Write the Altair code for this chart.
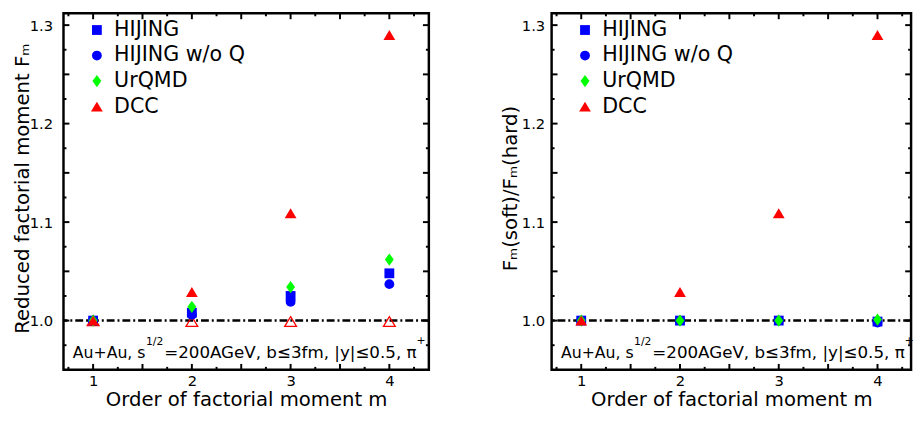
import altair as alt
import pandas as pd

# ---------------- data ----------------
m_vals = [1, 2, 3, 4]
series_names = ["HIJING", "HIJING w/o Q", "UrQMD", "DCC"]

left_hijing = [1.0, 1.008, 1.025, 1.048]
left_hijing_noq = [1.0, 1.006, 1.019, 1.037]
left_urqmd = [1.0, 1.014, 1.034, 1.062]
left_dcc = [1.0, 1.029, 1.109, 1.290]
left_dcc_hard = [1.0, 0.999, 0.999, 0.999]

right_hijing = [1.0, 1.0, 1.0, 0.999]
right_hijing_noq = [1.0, 1.0, 1.0, 0.998]
right_urqmd = [1.0, 1.0, 1.0, 1.001]
right_dcc = [1.0, 1.029, 1.109, 1.290]

reference_level = [1.0]

y_labels = [1.0, 1.1, 1.2, 1.3]
x_labels = [1, 2, 3, 4]
y_major_ticks = [1.0, 1.05, 1.1, 1.15, 1.2, 1.25, 1.3]
y_minor_ticks = [0.975, 1.025, 1.075, 1.125, 1.175, 1.225, 1.275]
x_major_ticks = [1.0, 1.5, 2.0, 2.5, 3.0, 3.5, 4.0]
x_minor_ticks = [0.75, 1.25, 1.75, 2.25, 2.75, 3.25, 3.75, 4.25]

# ---------------- styling ----------------
H = 363
FONT = "DejaVu Sans"
colors = ["#0000ff", "#0000ff", "#00ff00", "#ff0000"]
DIAMOND = "M0,-1.25L0.9,0L0,1.25L-0.9,0Z"
TRIANGLE = "M0,-1L1.2,1L-1.2,1Z"
shapes = ["square", "circle", DIAMOND, TRIANGLE]


def long_df(cols):
    rows = []
    for i, (name, vals) in enumerate(zip(series_names, cols)):
        for m, v in zip(m_vals, vals):
            rows.append({"m": m, "value": v, "series": name, "idx": i})
    return pd.DataFrame(rows)


def panel(cols, open_vals, ytitle, label_pad, W, xmax):
    xscale = alt.Scale(domain=[0.7, xmax], nice=False, zero=False)
    yscale = alt.Scale(domain=[0.95, 1.312], nice=False, zero=False)
    xaxis = alt.Axis(values=x_labels, format="d", title="Order of factorial moment m",
                     ticks=False, domain=False, grid=False,
                     labelFont=FONT, labelFontSize=15, labelPadding=4, labelColor="black",
                     titleFont=FONT, titleFontSize=20, titleY=36,
                     titleBaseline="alphabetic",
                     titleFontWeight="normal", titleColor="black")
    yaxis = alt.Axis(values=y_labels, format=".1f", title=ytitle,
                     ticks=False, domain=False, grid=False,
                     labelFont=FONT, labelFontSize=15, labelPadding=label_pad, labelColor="black",
                     titleFont=FONT, titleFontSize=20, titleFontWeight="normal",
                     titleColor="black", titleX=-36, titleY=178, titleAngle=270,
                     titleAlign="center", titleBaseline="alphabetic")

    def X(f):
        return alt.X(f, scale=xscale, axis=xaxis)

    def Y(f):
        return alt.Y(f, scale=yscale, axis=yaxis)

    pts = long_df(cols)

    leg = alt.Legend(orient="none", legendX=23.5, legendY=6.5, title=None,
                     labelFont=FONT, labelFontSize=21, labelColor="black",
                     symbolSize=100, labelOffset=7, rowPadding=4, padding=0,
                     symbolStrokeWidth=0)

    layers = []
    layers.append(alt.Chart(pd.DataFrame({"v": reference_level})).mark_rule(
        color="black", strokeWidth=2.5, strokeDash=[8, 3, 2, 3]
    ).encode(y=Y("v:Q")))

    for vals, ln in ((y_major_ticks, 6), (y_minor_ticks, 3)):
        d = pd.DataFrame({"v": vals})
        layers.append(alt.Chart(d).mark_rule(color="black", strokeWidth=2).encode(
            y=Y("v:Q"), x=alt.value(0), x2=alt.value(ln)))
        layers.append(alt.Chart(d).mark_rule(color="black", strokeWidth=2).encode(
            y=Y("v:Q"), x=alt.value(W - ln), x2=alt.value(W)))
    for vals, ln in ((x_major_ticks, 6), (x_minor_ticks, 3)):
        d = pd.DataFrame({"v": vals})
        layers.append(alt.Chart(d).mark_rule(color="black", strokeWidth=2).encode(
            x=X("v:Q"), y=alt.value(H), y2=alt.value(H - ln)))
        layers.append(alt.Chart(d).mark_rule(color="black", strokeWidth=2).encode(
            x=X("v:Q"), y=alt.value(0), y2=alt.value(ln)))

    if open_vals is not None:
        open_df = pd.DataFrame({"m": m_vals, "value": open_vals})
        layers.append(alt.Chart(open_df).mark_point(
            filled=False, shape=TRIANGLE, size=100, color="#ff0000",
            strokeWidth=1.3, opacity=1
        ).encode(x=X("m:Q"), y=Y("value:Q")))

    layers.append(alt.Chart(pts).mark_point(filled=True, size=100, opacity=1).encode(
        x=X("m:Q"),
        y=Y("value:Q"),
        color=alt.Color("series:N", scale=alt.Scale(domain=series_names, range=colors), legend=leg),
        shape=alt.Shape("series:N", scale=alt.Scale(domain=series_names, range=shapes), legend=leg),
        order=alt.Order("idx:Q"),
    ))

    one = pd.DataFrame({"k": [0]})

    def txt(s, x, y, size):
        return alt.Chart(one).mark_text(
            text=s, align="left", baseline="alphabetic", font=FONT,
            fontSize=size, color="black"
        ).encode(x=alt.value(x), y=alt.value(y))

    layers += [
        txt("Au+Au, s", 9.5, 350.5, 16),
        txt("1/2", 84, 338, 11),
        txt("=200AGeV, b≤3fm,  |y|≤0.5, π", 102.5, 350.5, 17),
        txt("+", 359.5, 337, 11),
    ]

    return alt.layer(*layers).properties(width=W, height=H)


left = panel([left_hijing, left_hijing_noq, left_urqmd, left_dcc], left_dcc_hard,
             "Reduced factorial moment Fₘ", 11, 372, 4.4)
right = panel([right_hijing, right_hijing_noq, right_urqmd, right_dcc], None,
              "Fₘ(soft)/Fₘ(hard)", 7, 366, 4.34)

chart = alt.hconcat(left, right, spacing=125, bounds="flush").resolve_scale(
    color="independent", shape="independent"
).properties(
    padding={"left": 2.5, "top": -1.25, "right": 0, "bottom": -4},
    background="white",
).configure_view(stroke="black", strokeWidth=2.5)

chart.save("out.html", embed_options={"renderer": "svg", "actions": False})
